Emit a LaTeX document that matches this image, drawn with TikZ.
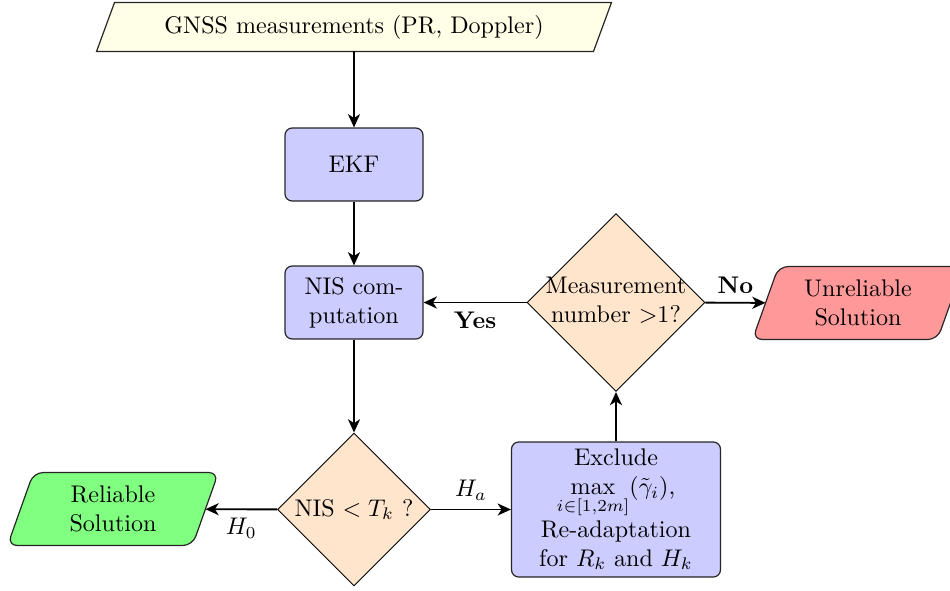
\documentclass[tikz,border=0pt]{standalone}
\usetikzlibrary{shapes.geometric,arrows.meta,calc,backgrounds}
\begin{document}
\begin{tikzpicture}[x=0.4155pt,y=-0.4155pt,
  boxnode/.style={rectangle, rounded corners=3pt, draw=black!85, line width=0.5pt, fill=blue!20, align=center, inner sep=0pt},
  dianode/.style={diamond, draw=black, line width=0.4pt, fill=orange!20, inner sep=0pt, aspect=1},
  ionode/.style={rectangle, align=center, inner sep=0pt},
  ioshape/.style={draw=black!85, line width=0.5pt},
  conn/.style={-{Stealth[length=5.5pt,width=5pt,inset=1.6pt]}, line width=0.8pt},
  lab/.style={font=\normalsize}
]
\useasboundingbox (0,0) rectangle (950,590);
\node[ionode, minimum width=496*0.4155pt, minimum height=48*0.4155pt] (gnss) at (354,27) {GNSS measurements (PR, Doppler)};
\node[boxnode, minimum width=138*0.4155pt, minimum height=73*0.4155pt] (ekf) at (354,164.5) {EKF};
\node[boxnode, minimum width=138*0.4155pt, minimum height=73*0.4155pt] (nis) at (354,302.5) {NIS com-\\putation};
\node[dianode, minimum size=153*0.4155pt] (test) at (354,509.5) {NIS $< T_k$ ?};
\node[dianode, minimum size=178*0.4155pt] (meas) at (616,302.5) {\makebox[0pt]{\begin{tabular}{@{}c@{}}Measurement\\number $>$1?\end{tabular}}};
\node[boxnode, minimum width=209*0.4155pt, minimum height=135*0.4155pt] (excl) at (616,509.5) {Exclude\\$\max\limits_{i\in[1,2m]}(\tilde{\gamma}_i)$,\\Re-adaptation\\for $R_k$ and $H_k$};
\node[ionode, minimum width=184*0.4155pt, minimum height=72*0.4155pt] (rel) at (113,509) {Reliable\\Solution};
\node[ionode, minimum width=184*0.4155pt, minimum height=72*0.4155pt] (unrel) at (858,303) {Unreliable\\Solution};
\begin{scope}[on background layer]
\draw[ioshape, fill=yellow!10] ($(gnss.north west)+(9,0)$) -- ($(gnss.north east)+(9,0)$) -- ($(gnss.south east)-(9,0)$) -- ($(gnss.south west)-(9,0)$) -- cycle;
\draw[ioshape, fill=green!50, rounded corners=4pt] (rel.north) -- ($(rel.north east)+(13,0)$) -- ($(rel.south east)-(13,0)$) -- ($(rel.south west)-(13,0)$) -- ($(rel.north west)+(13,0)$) -- cycle;
\draw[ioshape, fill=red!40, rounded corners=4pt] (unrel.north) -- ($(unrel.north east)+(13,0)$) -- ($(unrel.south east)-(13,0)$) -- ($(unrel.south west)-(13,0)$) -- ($(unrel.north west)+(13,0)$) -- cycle;
\end{scope}
\draw[conn] (gnss) -- (ekf);
\draw[conn] (ekf) -- (nis);
\draw[conn] (nis) -- (test);
\draw[conn] (test) -- node[below, lab] {$H_0$} (rel);
\draw[conn] (test) -- node[above, lab] {$H_a$} (excl);
\draw[conn] (excl) -- (meas);
\draw[conn] (meas) -- node[below, lab] {\textbf{Yes}} (nis);
\draw[conn] (meas) -- node[above, lab] {\textbf{No}} (unrel);
\end{tikzpicture}
\end{document}
